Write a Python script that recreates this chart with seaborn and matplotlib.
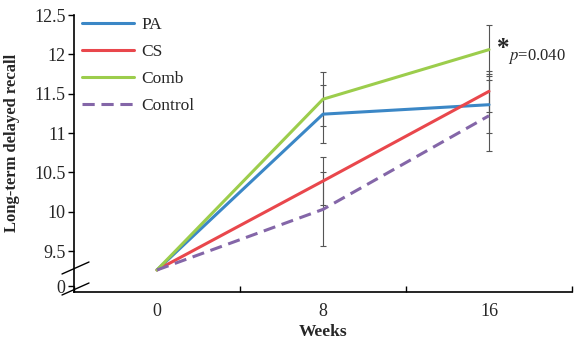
import matplotlib
matplotlib.use("Agg")
import matplotlib.pyplot as plt
import seaborn as sns
import pandas as pd
import numpy as np

weeks = ["0", "8", "16"]
groups = ["PA", "CS", "Comb", "Control"]
pa = [9.26, 11.24, 11.36]
cs = [9.26, 10.39, 11.53]
comb = [9.26, 11.43, 12.06]
control = [9.26, 10.03, 11.22]
pa_err = [0, 0.37, 0.36]
cs_err = [0, 0.30, 0.26]
comb_err = [0, 0.34, 0.31]
control_err = [0, 0.47, 0.45]
ytick_vals = [9.055, 9.5, 10, 10.5, 11, 11.5, 12, 12.5]
ytick_labels = ["0", "9.5", "10", "10.5", "11", "11.5", "12", "12.5"]
colors = {"PA": "#3b87c6", "CS": "#e9474c", "Comb": "#9ccd4c", "Control": "#8466a8"}

sns.set_theme(style="white")
plt.rcParams['font.family'] = ['Liberation Serif', 'DejaVu Serif']
plt.rcParams['mathtext.fontset'] = 'stix'

vals = {"PA": pa, "CS": cs, "Comb": comb, "Control": control}
errs = {"PA": pa_err, "CS": cs_err, "Comb": comb_err, "Control": control_err}
rows = []
for g in groups:
    for i, w in enumerate(weeks):
        rows.append({"pos": i, "week": w, "group": g, "value": vals[g][i], "err": errs[g][i]})
df = pd.DataFrame(rows)

fig = plt.figure(figsize=(5.74, 3.43), dpi=100)
ax = fig.add_axes([74/574, 1-292/343, 498/574, 277/343])

# error bars (weeks 8 and 16)
for g in groups:
    sub = df[(df.group == g) & (df.pos > 0)]
    ax.errorbar(sub.pos, sub.value, yerr=sub.err, fmt="none", ecolor="#555555",
                elinewidth=0.8, capsize=2.3, capthick=0.8, zorder=1)

sns.lineplot(data=df, x="pos", y="value", hue="group", style="group",
             hue_order=groups, style_order=groups, palette=colors,
             dashes={"PA": "", "CS": "", "Comb": "", "Control": (4, 2.2)},
             linewidth=2.2, ax=ax, zorder=3)

ax.set_xlim(-0.5, 2.5)
ax.set_ylim(8.98, 12.5)
ax.set_xticks(range(len(weeks)))
ax.set_xticklabels(weeks, fontsize=13)
ax.set_xticks([-0.5, 0.5, 1.5, 2.5], minor=True)
ax.tick_params(axis="x", which="major", length=0, pad=8)
ax.tick_params(axis="x", which="minor", length=4, width=1, direction="in", bottom=True, color="black")
ax.set_yticks(ytick_vals)
ax.set_yticklabels(ytick_labels, fontsize=13)
ax.tick_params(axis="y", length=4, width=1, direction="out", left=True, color="black", pad=2)

for s in ["top", "right"]:
    ax.spines[s].set_visible(False)
for s in ["left", "bottom"]:
    ax.spines[s].set_color("black")
    ax.spines[s].set_linewidth(1.2)

ax.set_xlabel("Weeks", fontsize=12.5, fontweight="bold", labelpad=3)
ax.set_ylabel("Long-term delayed recall", fontsize=12, fontweight="bold")
ax.yaxis.set_label_coords(-0.108, 0.54)

leg = ax.legend(loc="upper left", bbox_to_anchor=(-0.015, 1.05), frameon=False,
                fontsize=12.5, handlelength=3.0, handletextpad=0.4, labelspacing=0.62)
for line in leg.get_lines():
    line.set_linewidth(2.2)

# axis break marks
for y0 in [274, 295]:
    ax.plot([(62-74)/498, (89-74)/498], [(292-y0)/277, (292-y0+12)/277],
            transform=ax.transAxes, color="black", lw=1, clip_on=False)

ax.text(2.045, 12.08, "*", fontsize=18, fontweight="bold", va="center", ha="left")
ax.text(2.115, 11.97, r"$p$=0.040", fontsize=12, va="center", ha="left")

fig.savefig("out.png", dpi=100)
